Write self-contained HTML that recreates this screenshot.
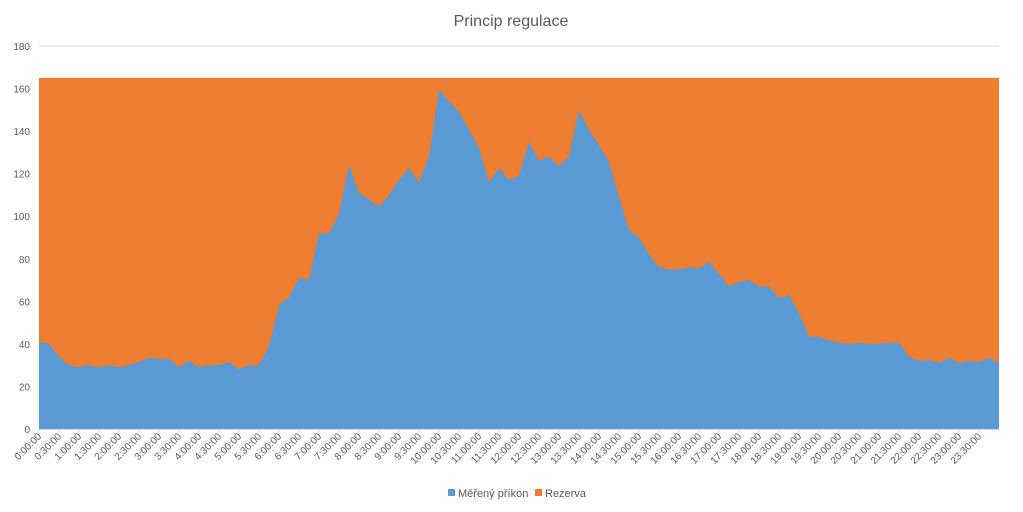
<!DOCTYPE html>
<html><head><meta charset="utf-8">
<style>
html,body{margin:0;padding:0;background:#fff;}
svg{display:block;font-family:"Liberation Sans",sans-serif;}
</style></head>
<body>
<svg id="chart" width="1023" height="512" viewBox="0 0 1023 512">
  <rect x="0" y="0" width="1023" height="512" fill="#fff"/>
  <text x="511" y="26" text-anchor="middle" font-size="16" fill="#595959">Princip regulace</text>
  <g id="grid"></g>
  <g id="yaxis"></g>
  <g id="areas"></g>
  <g id="xaxis"></g>
  <g>
    <g>
      <rect x="448" y="489" width="7" height="7" fill="#5b9bd5"/>
      <text x="458" y="497" font-size="11" fill="#595959">Měřený příkon</text>
    </g>
    <g>
      <rect x="535" y="489" width="7" height="7" fill="#ed7d31"/>
      <text x="545" y="497" font-size="11" fill="#595959">Rezerva</text>
    </g>
  </g>
</svg>
<script>
const measured = [41,40,34,30,29,30,29,30,29,30,31.5,33.5,33,33,29,32,29,30,30,31.5,28,30,30,39,58,62,71,70,92,92,101,124,111,108,104.5,110,117,122.6,116,128,159.6,154,149,140.5,132,116,122.6,117,119,135,126,128,123.6,128,150,140.5,133.5,125.6,109,93.5,90,82,76,75,75,76,75.5,78.6,73,67,69,70,67,67,61.5,63,54.5,43.4,43.4,41.5,40.5,40,40.5,40,40,40.5,40.5,34,32,32.5,31,33.5,31,32,31.5,33.5,31];
const capacity = 165;
const yTicks = [0,20,40,60,80,100,120,140,160,180];
const xLabels = [];
for (let h = 0; h < 24; h++) { xLabels.push(h + ':00:00'); xLabels.push(h + ':30:00'); }

const NS = 'http://www.w3.org/2000/svg';
const X0 = 39, X1 = 999, Y0 = 429, Ytop = 46, YMAX = 180;
const nPts = measured.length;
const xs = i => X0 + (X1 - X0) * i / (nPts - 1);
const ys = v => Y0 - (Y0 - Ytop) * v / YMAX;
function mk(tag, attrs, parent) {
  const e = document.createElementNS(NS, tag);
  for (const k in attrs) e.setAttribute(k, attrs[k]);
  parent.appendChild(e); return e;
}
const grid = document.getElementById('grid'), yaxis = document.getElementById('yaxis');
yTicks.forEach(t => {
  const l = mk('line', {x1: X0, x2: X1, y1: ys(t), y2: ys(t), stroke: '#d9d9d9', 'stroke-width': 1}, grid);
  
  
  const tx = mk('text', {x: 30, y: ys(t) + 4, 'text-anchor': 'end', 'font-size': 10, fill: '#595959'}, yaxis);
  tx.textContent = t;
  
  
});
const areas = document.getElementById('areas');
let pathD = '';
measured.forEach((v, i) => { pathD += (i ? 'L' : 'M') + xs(i) + ',' + ys(v); });
const orange = mk('path', {d: 'M' + X0 + ',' + ys(capacity) + 'L' + X1 + ',' + ys(capacity) + 'L' + X1 + ',' + Y0 + 'L' + X0 + ',' + Y0 + 'Z', fill: '#ed7d31'}, areas);


const blue = mk('path', {d: pathD + 'L' + X1 + ',' + Y0 + 'L' + X0 + ',' + Y0 + 'Z', fill: '#5b9bd5'}, areas);


const xaxis = document.getElementById('xaxis');
const ax = mk('line', {x1: X0, x2: X1, y1: Y0 + 0.5, y2: Y0 + 0.5, stroke: '#d9d9d9'}, xaxis);


xLabels.forEach((lab, j) => {
  const x = xs(j * 2);
  const tk = mk('line', {x1: x, x2: x, y1: Y0, y2: Y0 + 4, stroke: '#d9d9d9'}, xaxis);
  
  
  const t = mk('text', {x: x + 3, y: Y0 + 8, 'text-anchor': 'end', 'font-size': 10, fill: '#595959', transform: 'rotate(-45 ' + (x + 3) + ' ' + (Y0 + 8) + ')'}, xaxis);
  t.textContent = lab;
  
  
});
</script>
</body></html>
